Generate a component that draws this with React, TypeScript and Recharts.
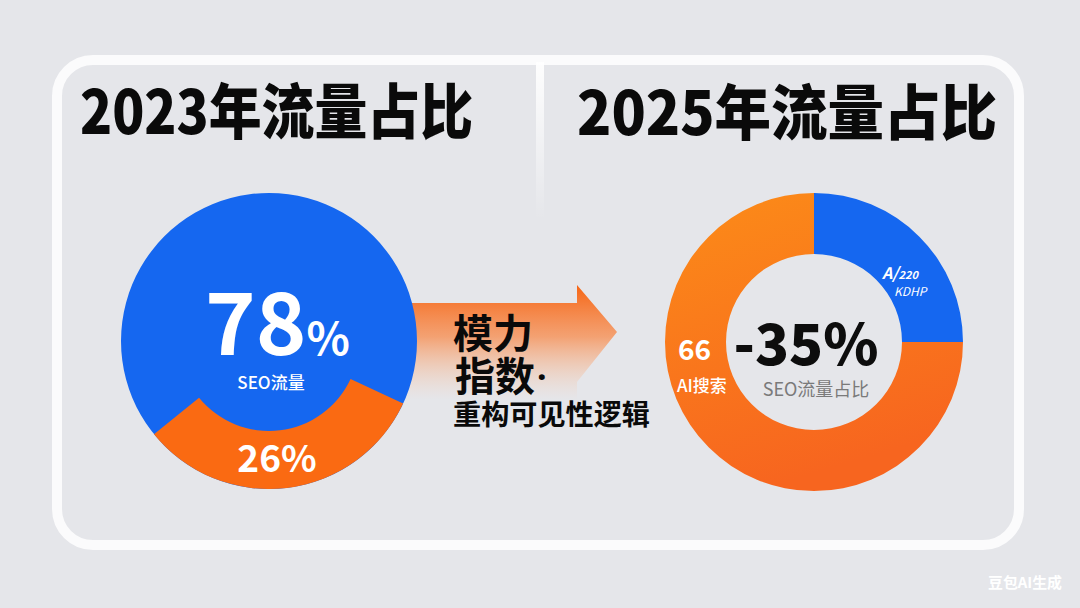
import { PieChart, Pie, Cell } from "recharts";

// two years of traffic share, left: solid disk with a bottom band, right: donut
const titles = ["2023年流量占比", "2025年流量占比"];
const seo2023 = [{ name: "SEO流量", value: 78 }];
const other2023 = [{ name: "其他", value: 26 }];
const share2025 = [
  { name: "SEO流量", value: 25 },
  { name: "AI搜索", value: 75 },
];
const arrowLines = ["模力", "指数", "重构可见性逻辑"];

const BLUE = "#1567f0";
const ORANGE = "#fa6a12";
const FONT = '"Noto Sans CJK SC", "Noto Sans", sans-serif';
const BG = "#e5e6ea";

export default function App() {
  return (
    <div
      style={{
        position: "absolute",
        left: 0,
        top: 0,
        width: 1080,
        height: 608,
        background: BG,
        overflow: "hidden",
        fontFamily: FONT,
      }}
    >
      {/* frame, divider and arrow sit behind the pies */}
      <svg width={1080} height={608} style={{ position: "absolute", left: 0, top: 0 }}>
        <defs>
          <linearGradient id="divFade" x1="0" y1="0" x2="0" y2="1">
            <stop offset="0%" stopColor="#ffffff" stopOpacity={0.95} />
            <stop offset="100%" stopColor="#ffffff" stopOpacity={0} />
          </linearGradient>
          <linearGradient id="arrowFade" x1="0" y1="0" x2="0" y2="1">
            <stop offset="0%" stopColor="#f66514" stopOpacity={1} />
            <stop offset="45%" stopColor="#f88a4a" stopOpacity={0.75} />
            <stop offset="100%" stopColor="#fbc9a8" stopOpacity={0} />
          </linearGradient>
        </defs>
        <rect x={57} y={60} width={962} height={485} rx={36} fill="none" stroke="#fbfbfc" strokeWidth={10} />
        <rect x={536} y={62} width={8} height={158} fill="url(#divFade)" />
        <polygon
          points="380,303 577,303 577,285 617,332 577,382 577,400 380,400"
          fill="url(#arrowFade)"
        />
      </svg>

      <div style={{ position: "absolute", left: 109, top: 181 }}>
        <PieChart width={320} height={320} margin={{ top: 0, right: 0, bottom: 0, left: 0 }}>
          <Pie
            data={seo2023}
            dataKey="value"
            innerRadius={0}
            outerRadius={148}
            stroke="none"
            isAnimationActive={false}
          >
            <Cell fill={BLUE} />
          </Pie>
          <Pie
            data={other2023}
            dataKey="value"
            startAngle={219}
            endAngle={335}
            innerRadius={90}
            outerRadius={148}
            stroke="none"
            isAnimationActive={false}
          >
            <Cell fill={ORANGE} />
          </Pie>
        </PieChart>
      </div>

      <div style={{ position: "absolute", left: 654, top: 182 }}>
        <PieChart width={320} height={320} margin={{ top: 0, right: 0, bottom: 0, left: 0 }}>
          <defs>
            <linearGradient id="ringOrange" x1="0" y1="0" x2="0.3" y2="1">
              <stop offset="0%" stopColor="#fc8c18" />
              <stop offset="100%" stopColor="#f7651f" />
            </linearGradient>
          </defs>
          <Pie
            data={share2025}
            dataKey="value"
            startAngle={90}
            endAngle={-270}
            innerRadius={88}
            outerRadius={149}
            stroke="none"
            isAnimationActive={false}
          >
            <Cell fill={BLUE} />
            <Cell fill="url(#ringOrange)" />
          </Pie>
        </PieChart>
      </div>

      {/* all text on top */}
      <svg
        width={1080}
        height={608}
        style={{ position: "absolute", left: 0, top: 0, fontFamily: FONT }}
      >
        <text x={80} y={134} fontSize={60} fontWeight={900} fill="#0a0a0a" textLength={393} lengthAdjust="spacingAndGlyphs">
          {titles[0]}
        </text>
        <text x={577} y={135} fontSize={60} fontWeight={900} fill="#0a0a0a" textLength={420} lengthAdjust="spacingAndGlyphs">
          {titles[1]}
        </text>

        <text x={205} y={355} fontSize={86} fontWeight={700} fill="#fff">
          {seo2023[0].value}
          <tspan fontSize={45}>%</tspan>
        </text>
        <text x={271} y={389} fontSize={17} fontWeight={500} fill="#fff" textAnchor="middle">
          {seo2023[0].name}
        </text>
        <text x={277} y={472} fontSize={37} fontWeight={700} fill="#fff" textAnchor="middle">
          {other2023[0].value}%
        </text>

        <text x={453} y={348} fontSize={40} fontWeight={700} fill="#0a0a0a">
          {arrowLines[0]}
        </text>
        <text x={455} y={391} fontSize={40} fontWeight={700} fill="#0a0a0a">
          {arrowLines[1]}
          <tspan fontFamily='"Noto Sans", sans-serif' fontSize={34} dx={2} dy={-2}>
            ·
          </tspan>
        </text>
        <text x={453} y={425} fontSize={28} fontWeight={700} fill="#0a0a0a" textLength={197} lengthAdjust="spacingAndGlyphs">
          {arrowLines[2]}
        </text>

        <text x={806} y={365} fontSize={56} fontWeight={900} fill="#0d0d0d" textAnchor="middle">
          -35%
        </text>
        <text x={816} y={396} fontSize={18} fill="#7a7a7a" textAnchor="middle">
          SEO流量占比
        </text>
        <text x={678} y={360} fontSize={28} fontWeight={700} fill="#fff">
          66
        </text>
        <text x={677} y={392} fontSize={17} fontWeight={500} fill="#fff">
          {share2025[1].name}
        </text>
        <text x={882} y={279} fontSize={16} fontStyle="italic" fontWeight={700} fill="#fff">
          A/<tspan fontSize={11}>220</tspan>
        </text>
        <text x={894} y={296} fontSize={12} fontStyle="italic" fill="#fff">
          KDHP
        </text>

        <text x={988} y={588} fontSize={15} fontWeight={700} fill="#fff" textLength={74} lengthAdjust="spacingAndGlyphs">
          豆包AI生成
        </text>
      </svg>
    </div>
  );
}
